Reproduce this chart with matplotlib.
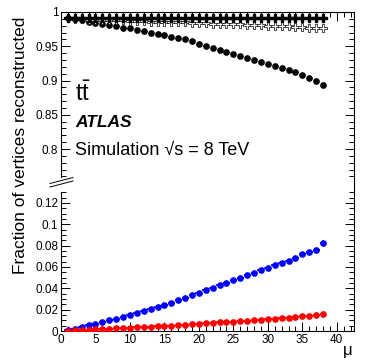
"""Vertex reconstruction fraction vs pile-up (ATLAS style, broken y axis)."""

import matplotlib

matplotlib.use("Agg")
import matplotlib.pyplot as plt
import numpy as np
from matplotlib.lines import Line2D
from matplotlib.ticker import FixedLocator, FuncFormatter, MultipleLocator

plt.rcParams["font.family"] = ["Liberation Sans", "DejaVu Sans"]
plt.rcParams["mathtext.fontset"] = "custom"
plt.rcParams["mathtext.rm"] = "Liberation Sans"

mu = list(range(1, 39))

# upper panel (efficiency-like fractions)
full_cross = [0.991, 0.991, 0.991, 0.991, 0.991, 0.991, 0.991, 0.991, 0.991, 0.991,
              0.991, 0.991, 0.991, 0.991, 0.991, 0.991, 0.991, 0.991, 0.991, 0.991,
              0.991, 0.991, 0.991, 0.991, 0.991, 0.991, 0.991, 0.991, 0.991, 0.991,
              0.991, 0.991, 0.991, 0.991, 0.991, 0.991, 0.991, 0.991]
open_cross = [0.991, 0.990, 0.990, 0.989, 0.989, 0.989, 0.988, 0.988, 0.988, 0.987,
              0.987, 0.987, 0.986, 0.986, 0.986, 0.985, 0.985, 0.985, 0.984, 0.984,
              0.984, 0.983, 0.983, 0.983, 0.982, 0.982, 0.981, 0.981, 0.981, 0.980,
              0.980, 0.979, 0.979, 0.978, 0.978, 0.977, 0.977, 0.976]
full_circle = [0.991, 0.990, 0.988, 0.986, 0.984, 0.982, 0.981, 0.979, 0.977, 0.976,
               0.974, 0.972, 0.970, 0.968, 0.966, 0.964, 0.962, 0.960, 0.957, 0.954,
               0.951, 0.948, 0.945, 0.942, 0.939, 0.936, 0.933, 0.930, 0.927, 0.924,
               0.921, 0.918, 0.915, 0.912, 0.908, 0.904, 0.900, 0.893]

# lower panel
blue_frac = [0.0005, 0.0020, 0.0035, 0.0052, 0.0069, 0.0085, 0.0100, 0.0117, 0.0133, 0.0154,
             0.0170, 0.0188, 0.0207, 0.0226, 0.0246, 0.0266, 0.0287, 0.0310, 0.0333, 0.0358,
             0.0380, 0.0402, 0.0428, 0.0452, 0.0476, 0.0500, 0.0523, 0.0548, 0.0570, 0.0590,
             0.0616, 0.0640, 0.0660, 0.0683, 0.0723, 0.0740, 0.0760, 0.0820]
red_frac = [0.0002, 0.0006, 0.0009, 0.0012, 0.0015, 0.0018, 0.0021, 0.0024, 0.0027, 0.0030,
            0.0033, 0.0036, 0.0040, 0.0043, 0.0046, 0.0050, 0.0054, 0.0058, 0.0063, 0.0068,
            0.0072, 0.0076, 0.0080, 0.0084, 0.0088, 0.0092, 0.0097, 0.0101, 0.0106, 0.0111,
            0.0116, 0.0121, 0.0126, 0.0131, 0.0136, 0.0141, 0.0150, 0.0160]

W, H = 374, 361
fig = plt.figure(figsize=(W / 100, H / 100), dpi=100)

left, right = 61 / W, 354 / W
y_top, y_mid, y_bot = 12 / H, 180 / H, 331 / H
ax_top = fig.add_axes([left, 1 - y_mid, right - left, y_mid - y_top])
ax_bot = fig.add_axes([left, 1 - y_bot, right - left, y_bot - y_mid])

fmt = FuncFormatter(lambda v, _: f"{v:g}")

for ax in (ax_top, ax_bot):
    ax.set_xlim(0, 42.5)
    ax.xaxis.set_major_locator(MultipleLocator(5))
    ax.xaxis.set_minor_locator(MultipleLocator(1))
    ax.yaxis.set_major_formatter(fmt)
    ax.tick_params(which="both", direction="in", left=True, right=True, labelsize=8.5, pad=2)
    ax.tick_params(which="major", length=6.5, width=0.7)
    ax.tick_params(which="minor", length=3.3, width=0.7)
    for sp in ax.spines.values():
        sp.set_linewidth(0.8)

# upper panel
ax_top.set_ylim(0.7548, 1.0)
ax_top.yaxis.set_major_locator(MultipleLocator(0.05))
ax_top.yaxis.set_minor_locator(MultipleLocator(0.01))
ax_top.spines["bottom"].set_visible(False)
ax_top.spines["left"].set_bounds(0.759, 1.0)
ax_top.tick_params(axis="x", which="both", top=True, bottom=False, labelbottom=False)

ax_top.plot(mu, full_circle, "o", color="black", ms=3.8, ls="none", zorder=3)
ax_top.plot(mu, open_cross, "P", mfc="white", mec="black", mew=0.5, ms=5.5, ls="none", zorder=4)
ax_top.plot(mu, full_cross, "P", color="black", ms=5.5, ls="none", zorder=5)

ax_top.text(0.047, 0.47, r"$\mathregular{t\bar{t}}$", transform=ax_top.transAxes,
            fontsize=17, ha="left", va="baseline")
ax_top.text(0.049, 0.317, "ATLAS", transform=ax_top.transAxes, fontsize=12.5,
            fontweight="bold", fontstyle="italic", ha="left", va="baseline")
ax_top.text(0.049, 0.148, "Simulation √s = 8 TeV", transform=ax_top.transAxes,
            fontsize=13, ha="left", va="baseline")

# lower panel
ax_bot.set_ylim(0, 0.1415)
ax_bot.yaxis.set_major_locator(FixedLocator(np.arange(0, 0.1201, 0.02)))
ax_bot.yaxis.set_minor_locator(FixedLocator(np.arange(0, 0.1305, 0.005)))
ax_bot.spines["top"].set_visible(False)
ax_bot.spines["left"].set_bounds(0, 0.13)
ax_bot.tick_params(axis="x", which="both", top=False, bottom=True)

ax_bot.errorbar(mu, blue_frac, xerr=0.5, fmt="o", color="#0000ff", ms=3.8, elinewidth=1.2,
                capsize=0, zorder=3)
ax_bot.errorbar(mu, red_frac, xerr=0.5, fmt="o", color="#ff0000", ms=3.8, elinewidth=1.2,
                capsize=0, zorder=3)

# axis titles
fig.text(21 / W, 1 - 145 / H, "Fraction of vertices reconstructed", rotation=90,
         fontsize=12.5, ha="center", va="center")
fig.text(348 / W, 1 - 350 / H, "μ", fontsize=12, ha="center", va="center")

# break marks on the left axis
for y0 in (183.5, 187.0):
    fig.add_artist(Line2D([50 / W, 73 / W], [1 - y0 / H, 1 - (y0 - 6) / H],
                          color="black", lw=0.7))

fig.savefig("out.png", dpi=100)
